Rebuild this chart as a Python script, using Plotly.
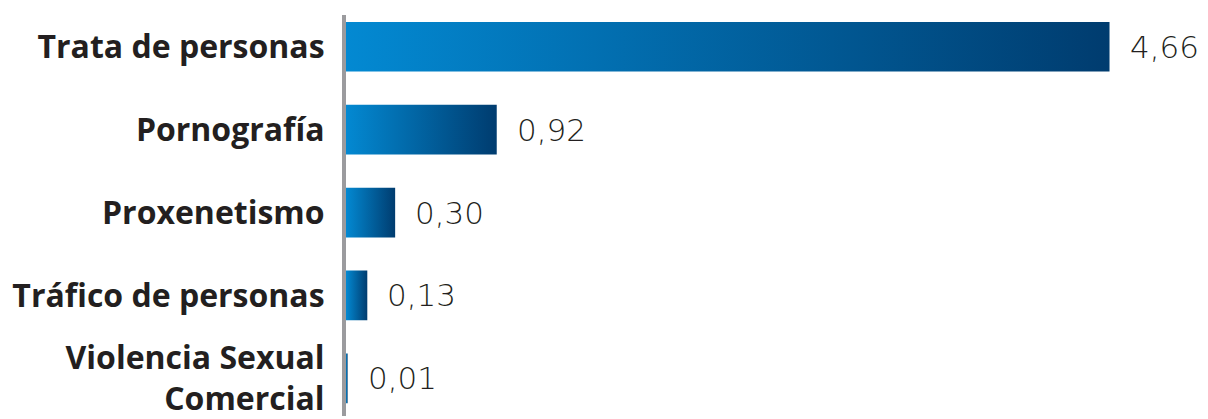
import plotly.graph_objects as go

# data
categories = ["Trata de personas", "Pornografía", "Proxenetismo",
              "Tráfico de personas", "Violencia Sexual<br>Comercial"]
values = [4.66, 0.92, 0.30, 0.13, 0.01]
value_labels = ["4,66", "0,92", "0,30", "0,13", "0,01"]

bar_half = 0.30
light_blue = "#0389d2"
dark_blue = "#003c6f"
text_color = "#231f20"

fig = go.Figure()

# each bar is a filled box so it can carry its own left-to-right gradient
for i, v in enumerate(values):
    fig.add_trace(go.Scatter(
        x=[0, v, v, 0, 0],
        y=[i - bar_half, i - bar_half, i + bar_half, i + bar_half, i - bar_half],
        mode="lines",
        fill="toself",
        line=dict(width=0),
        fillgradient=dict(type="horizontal",
                          colorscale=[[0, light_blue], [1, dark_blue]]),
        hoverinfo="skip",
        showlegend=False,
    ))
    fig.add_annotation(
        x=v, y=i, text=value_labels[i], showarrow=False,
        xanchor="left", xshift=18,
        font=dict(family="DejaVu Sans", size=31, weight=200, color=text_color),
    )

fig.update_xaxes(range=[0, 5.2], visible=False)
fig.update_yaxes(
    range=[4.455, -0.383],
    tickvals=list(range(len(categories))),
    ticktext=categories,
    showgrid=False, zeroline=False,
    showline=True, linecolor="#9b9b9e", linewidth=4,
    ticks="", ticklabelstandoff=11, ticklabeloverflow="allow",
    tickfont=dict(family="Open Sans", size=32, weight="bold", color=text_color),
)
# page body adds an 8px margin, so the figure is drawn 8px smaller
fig.update_layout(
    width=1200, height=411,
    margin=dict(l=338, r=10, t=7, b=0),
    plot_bgcolor="white", paper_bgcolor="white",
)

fig.write_html("out.html")
